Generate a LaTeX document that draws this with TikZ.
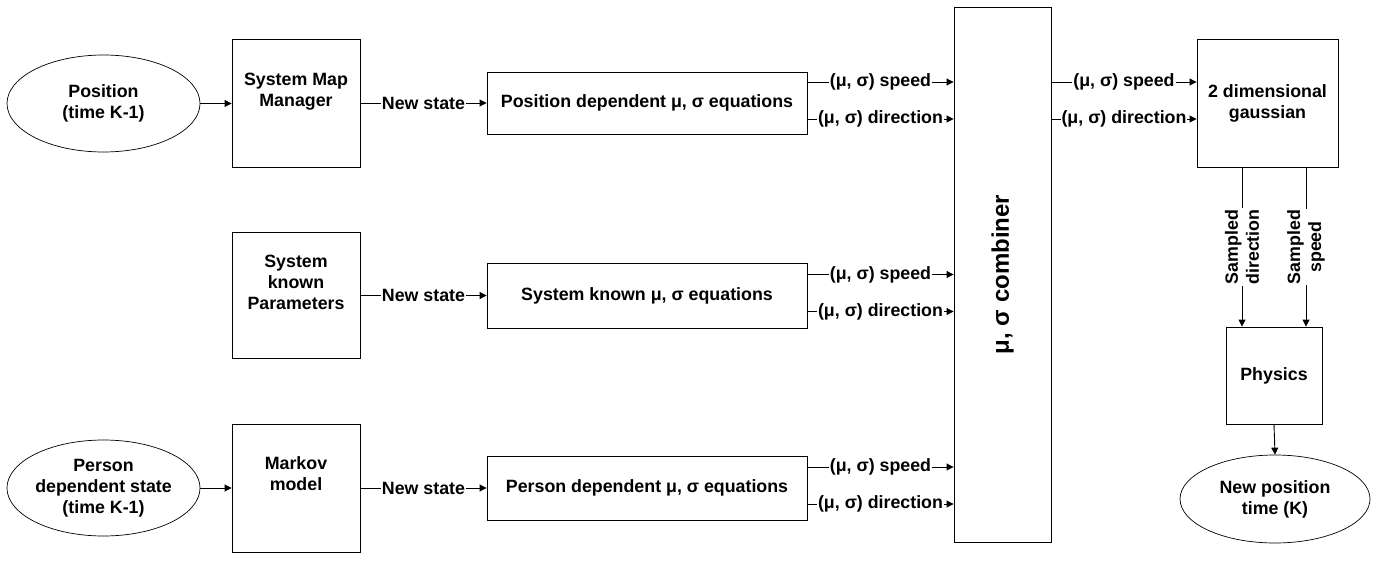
\documentclass[tikz,border=0pt]{standalone}
\usepackage{fontspec}
\setmainfont{Liberation Sans}
\usetikzlibrary{arrows.meta,shapes.geometric}
\begin{document}
\begin{tikzpicture}[x=1pt,y=-1pt,
  every node/.style={font=\bfseries\fontsize{17.8}{21}\selectfont, align=center},
  box/.style={draw, line width=0.9pt, inner sep=0pt},
  ell/.style={draw, ellipse, line width=0.7pt, inner sep=0pt},
  conn/.style={line width=0.9pt, -{Triangle[length=7pt,width=7pt]}},
  lbl/.style={fill=white, inner sep=1pt},
  bigtxt/.style={font=\bfseries\fontsize{24}{28}\selectfont}]
\useasboundingbox (0,0) rectangle (1383,585);

% left column
\node[ell, minimum width=193pt, minimum height=97pt] (pos) at (103.5,103.5) {Position\\(time K-1)};
\node[ell, minimum width=193pt, minimum height=96pt] (per) at (103.5,488) {Person\\dependent state\\(time K-1)};

\node[box, minimum width=128pt, minimum height=128pt] (smm) at (296,103) {};
\node (smmt) at (296,92) {System Map\\Manager};
\node[box, minimum width=128pt, minimum height=126pt] (skp) at (296,295) {};
\node (skpt) at (296,282) {System\\known\\Parameters};
\node[box, minimum width=128pt, minimum height=128pt] (mkv) at (296,488) {};
\node (mkvt) at (296,474) {Markov\\model};

% equation boxes
\node[box, minimum width=320pt, minimum height=62pt] (pde) at (647,103) {Position dependent μ, σ equations};
\node[box, minimum width=320pt, minimum height=65pt] (ske) at (647,295.5) {System known μ, σ equations};
\node[box, minimum width=320pt, minimum height=64pt] (pse) at (647,488) {Person dependent μ, σ equations};

% combiner
\node[box, minimum width=97pt, minimum height=535pt] (comb) at (1002.5,274.5) {};
\node[bigtxt, rotate=90] (combt) at (comb.center) {μ, σ combiner};

% right column
\node[box, minimum width=141pt, minimum height=128pt] (gau) at (1267.5,103) {2 dimensional\\gaussian};
\node[box, minimum width=96pt, minimum height=97pt] (phy) at (1274,375.5) {Physics};
\node[ell, minimum width=190pt, minimum height=88pt] (npos) at (1275,499) {New position\\time (K)};

% connectors left
\draw[conn] (pos) -- (smm.west |- pos);
\draw[conn] (per) -- (mkv.west |- per);
\draw[conn] (smm.east |- pde) -- (pde.west) node[midway,lbl] {New state};
\draw[conn] (skp.east |- ske) -- (ske.west) node[midway,lbl] {New state};
\draw[conn] (mkv.east |- pse) -- (pse.west) node[midway,lbl] {New state};

% equation outputs
\foreach \b in {pde,ske,pse}{
  \coordinate (\b s) at ([yshift=21pt]\b.east);
  \coordinate (\b d) at ([yshift=-16pt]\b.east);
  \draw[conn] (\b s) -- (\b s -| comb.west) node[midway,lbl] {(μ, σ) speed};
  \draw[conn] (\b d) -- (\b d -| comb.west) node[midway,lbl] {(μ, σ) direction};
}

% combiner outputs
\coordinate (cs) at (1051,82);
\coordinate (cd) at (1051,119);
\draw[conn] (comb.east |- cs) -- (gau.west |- cs) node[midway,lbl] {(μ, σ) speed};
\draw[conn] (comb.east |- cd) -- (gau.west |- cd) node[midway,lbl] {(μ, σ) direction};

% sampled
\coordinate (sdx) at (1242,0);
\coordinate (ssx) at (1306,0);
\draw[conn] (gau.south -| sdx) -- (phy.north -| sdx) node[midway,lbl,rotate=90] {Sampled\\direction};
\draw[conn] (gau.south -| ssx) -- (phy.north -| ssx) node[midway,lbl,rotate=90] {Sampled\\speed};
\draw[conn] (phy.south) -- (npos.north);
\end{tikzpicture}
\end{document}
